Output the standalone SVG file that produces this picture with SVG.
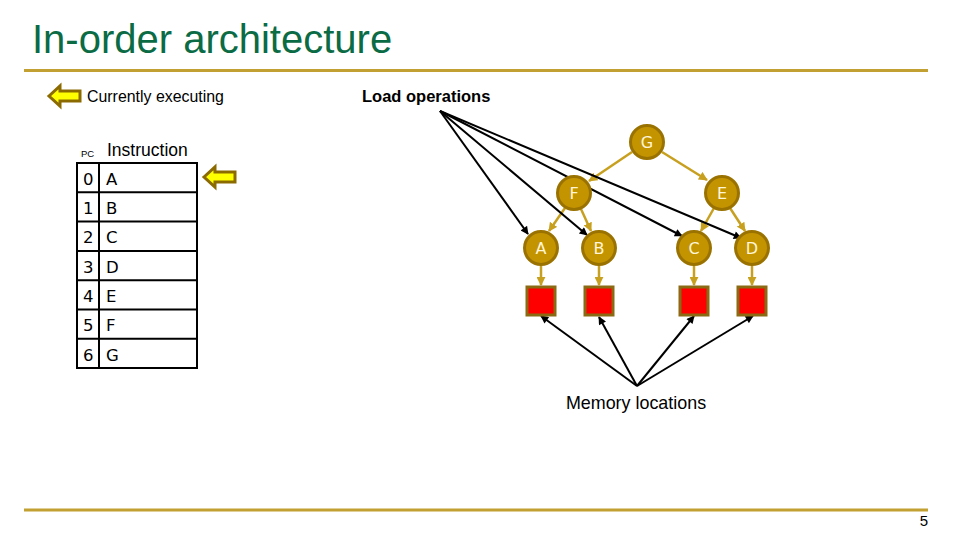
<svg xmlns="http://www.w3.org/2000/svg" width="960" height="540" viewBox="0 0 960 540">
<defs>
<marker id="ab" viewBox="0 0 10 10" refX="9" refY="5" markerWidth="10" markerHeight="8" orient="auto" markerUnits="userSpaceOnUse">
<path d="M0,0 L10,5 L0,10 z" fill="#000"/>
</marker>
<marker id="ag" viewBox="0 0 10 10" refX="9" refY="5" markerWidth="9" markerHeight="9" orient="auto" markerUnits="userSpaceOnUse">
<path d="M0,0 L10,5 L0,10 z" fill="#C8A020"/>
</marker>
<path id="yarrow" d="M0,10 L11,0 L11,5 L31,5 L31,15 L11,15 L11,20 z"/>
</defs>
<style>
.node circle{fill:#C49300;stroke:#9A7200;stroke-width:3}
.node text{font-family:"DejaVu Sans",sans-serif;font-size:16px;fill:#FFF6D8;text-anchor:middle}
.mem rect{fill:#FF0000;stroke:#8B6A14;stroke-width:3}
.tree{stroke:#C8A020;stroke-width:2.5;fill:none;marker-end:url(#ag)}
.blk{stroke:#000;stroke-width:2;fill:none;marker-end:url(#ab)}
.cell{fill:none;stroke:#000;stroke-width:2}
.tt{font-family:"DejaVu Sans",sans-serif;font-size:16.5px;fill:#000}
.lbl{font-family:"Liberation Sans",Arial,sans-serif;fill:#000}
.ya{fill:#FFFF00;stroke:#8B6A00;stroke-width:3;stroke-linejoin:miter}
</style>
<rect width="960" height="540" fill="#fff"/>
<g id="title">
<text x="32" y="53" font-family="Liberation Sans,Arial,sans-serif" font-size="40" fill="#0B6B45">In-order architecture</text>
<line x1="24" y1="70.500" x2="928" y2="70.500" stroke="#C3A032" stroke-width="3"/>
<line x1="24" y1="510" x2="928" y2="510" stroke="#C3A032" stroke-width="3"/>
<text x="928" y="526" class="lbl" font-size="15" text-anchor="end">5</text>
</g>
<g id="legend">
<use href="#yarrow" x="49" y="86" class="ya"/>
<text x="87" y="102" class="lbl" font-size="15.900">Currently executing</text>
</g>
<g id="labels">
<text x="362" y="102" class="lbl" font-size="16.500" font-weight="bold">Load operations</text>
<text x="636" y="409" class="lbl" font-size="17.900" text-anchor="middle">Memory locations</text>
</g>
<g id="table">
<text x="81" y="157" class="lbl" font-size="9.500">PC</text>
<text x="107" y="156" class="lbl" font-size="17.500">Instruction</text>
<rect x="77" y="163" width="120" height="205" class="cell"/>
<line x1="99" y1="163" x2="99" y2="368" class="cell"/>
<line x1="77" y1="192.300" x2="197" y2="192.300" class="cell"/>
<line x1="77" y1="221.600" x2="197" y2="221.600" class="cell"/>
<line x1="77" y1="250.900" x2="197" y2="250.900" class="cell"/>
<line x1="77" y1="280.200" x2="197" y2="280.200" class="cell"/>
<line x1="77" y1="309.500" x2="197" y2="309.500" class="cell"/>
<line x1="77" y1="338.800" x2="197" y2="338.800" class="cell"/>
<g class="tt">
<text x="83" y="185">0</text><text x="106" y="185">A</text>
<text x="83" y="214">1</text><text x="106" y="214">B</text>
<text x="83" y="243">2</text><text x="106" y="243">C</text>
<text x="83" y="273">3</text><text x="106" y="273">D</text>
<text x="83" y="302">4</text><text x="106" y="302">E</text>
<text x="83" y="331">5</text><text x="106" y="331">F</text>
<text x="83" y="361">6</text><text x="106" y="361">G</text>
</g>
<use id="pc-arrow" href="#yarrow" x="204" y="167" class="ya"/>
</g>
<g id="connectors">
<line x1="632" y1="152" x2="589" y2="181" class="tree"/>
<line x1="662" y1="152" x2="707" y2="180" class="tree"/>
<line x1="565" y1="208" x2="549" y2="231" class="tree"/>
<line x1="581" y1="209" x2="591" y2="231" class="tree"/>
<line x1="714" y1="208" x2="701" y2="231" class="tree"/>
<line x1="730" y1="208" x2="745" y2="231" class="tree"/>
<line x1="541" y1="266" x2="541" y2="285" class="tree"/>
<line x1="599" y1="266" x2="599" y2="285" class="tree"/>
<line x1="694" y1="266" x2="694" y2="285" class="tree"/>
<line x1="752" y1="266" x2="752" y2="285" class="tree"/>
<line x1="440" y1="111" x2="528" y2="234" class="blk"/>
<line x1="440" y1="111" x2="587" y2="235" class="blk"/>
<line x1="440" y1="111" x2="682" y2="236" class="blk"/>
<line x1="440" y1="111" x2="741" y2="238" class="blk"/>
<line x1="637" y1="386" x2="541" y2="316" class="blk"/>
<line x1="637" y1="386" x2="599" y2="317" class="blk"/>
<line x1="637" y1="386" x2="694" y2="316" class="blk"/>
<line x1="637" y1="386" x2="753" y2="316" class="blk"/>
</g>
<g id="node-G" class="node"><circle cx="647" cy="142" r="16.500"/><text x="647" y="148">G</text></g>
<g id="node-F" class="node"><circle cx="574" cy="193" r="16.500"/><text x="574" y="199">F</text></g>
<g id="node-E" class="node"><circle cx="722" cy="193" r="16.500"/><text x="722" y="199">E</text></g>
<g id="node-A" class="node"><circle cx="541" cy="248" r="16.500"/><text x="541" y="254">A</text></g>
<g id="node-B" class="node"><circle cx="599" cy="248" r="16.500"/><text x="599" y="254">B</text></g>
<g id="node-C" class="node"><circle cx="694" cy="248" r="16.500"/><text x="694" y="254">C</text></g>
<g id="node-D" class="node"><circle cx="752" cy="248" r="16.500"/><text x="752" y="254">D</text></g>
<g id="mem-A" class="mem"><rect x="527" y="287" width="28" height="28"/></g>
<g id="mem-B" class="mem"><rect x="585" y="287" width="28" height="28"/></g>
<g id="mem-C" class="mem"><rect x="680" y="287" width="28" height="28"/></g>
<g id="mem-D" class="mem"><rect x="738" y="287" width="28" height="28"/></g>
</svg>
